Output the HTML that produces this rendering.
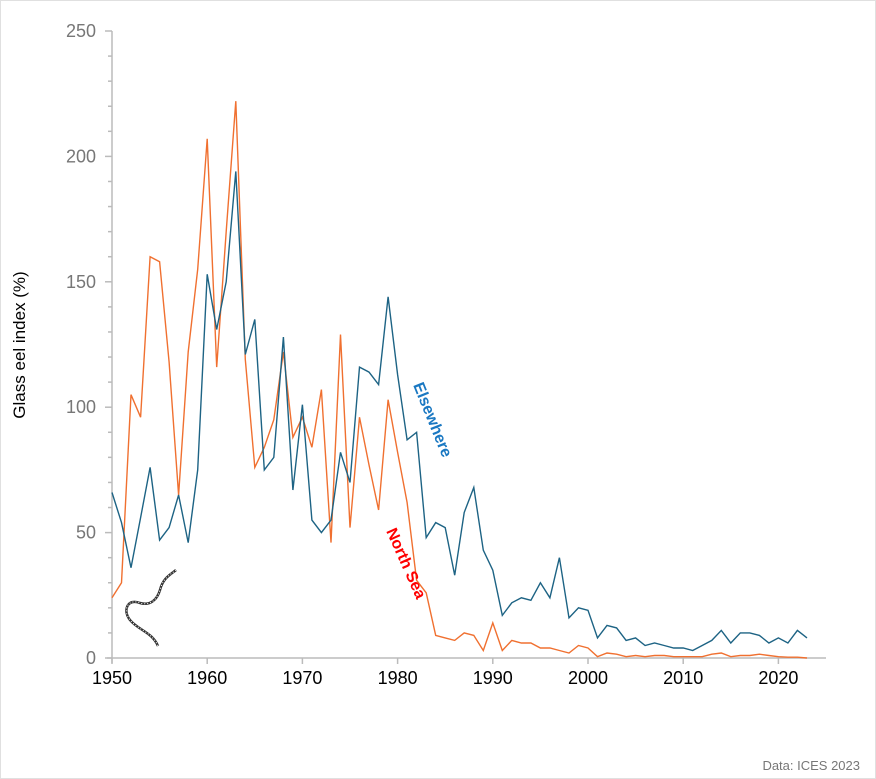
<!DOCTYPE html>
<html><head><meta charset="utf-8"><style>
body{margin:0;background:#fff;}
svg{display:block;font-family:"Liberation Sans",Arial,sans-serif;}
</style></head><body>
<svg id="s" width="876" height="779" viewBox="0 0 876 779">
<rect x="0.5" y="0.5" width="875" height="778" fill="#fff" stroke="#e0e0e0"/>
<g id="axes" stroke="#bbb" stroke-width="1.5" fill="none"></g>
<g id="lbl" fill="#777" font-size="18"></g>
<text transform="translate(25,345) rotate(-90)" text-anchor="middle" font-size="17" fill="#000">Glass eel index (%)</text>
<polyline id="ns" fill="none" stroke="#f07030" stroke-width="1.4"/>
<polyline id="el" fill="none" stroke="#1d6384" stroke-width="1.4"/>
<text transform="translate(413,385) rotate(68)" font-size="16" font-weight="bold" fill="#1a78c2">Elsewhere</text>
<text transform="translate(386,531) rotate(66)" font-size="16" font-weight="bold" fill="#ff0000">North Sea</text>
<g fill="none" stroke="#333">
<path d="M176,570 C170,575 163,578 160,590 C157,600 150,606 140,603 C128,598 122,610 130,620 C138,630 152,632 158,646" stroke-width="2.5"/>
<path d="M176,570 C170,575 163,578 160,590 C157,600 150,606 140,603 C128,598 122,610 130,620 C138,630 152,632 158,646" stroke="#fff" stroke-width="1" stroke-dasharray="1 2"/>
</g>
<text x="860" y="770" text-anchor="end" font-size="13" fill="#777">Data: ICES 2023</text>
</svg>
<script>
var X0=112,DX=9.52,Y0=658,K=2.508;
function px(i){return X0+DX*i}function py(v){return Y0-v*K}
var el=[66,54,36,56,76,47,52,65,46,75,153,131,150,194,121,135,75,80,128,67,101,55,50,55,82,70,116,114,109,144,113,87,90,48,54,52,33,58,68,43,35,17,22,24,23,30,24,40,16,20,19,8,13,12,7,8,5,6,5,4,4,3,5,7,11,6,10,10,9,6,8,6,11,8];
var ns=[24,30,105,96,160,158,118,65,122,155,207,116,170,222,119,76,84,95,122,88,96,84,107,46,129,52,96,77,59,103,82,62,31,26,9,8,7,10,9,3,14,3,7,6,6,4,4,3,2,5,4,0.5,2,1.5,0.5,1,0.5,1,1,0.5,0.5,0.5,0.5,1.5,2,0.5,1,1,1.5,1,0.5,0.3,0.3,0];
function pts(a){return a.map(function(v,i){return px(i).toFixed(1)+","+py(v).toFixed(1)}).join(" ")}
document.getElementById("el").setAttribute("points",pts(el));
document.getElementById("ns").setAttribute("points",pts(ns));
var ax='<line x1="112" y1="31" x2="112" y2="663"/><line x1="107" y1="658" x2="826" y2="658"/>';
for(var v=0;v<=250;v+=10){var y=py(v);ax+='<line x1="'+(v%50==0?105:108)+'" y1="'+y+'" x2="112" y2="'+y+'"/>';}
var lb='';
for(var v=0;v<=250;v+=50){lb+='<text x="96" y="'+(py(v)+6)+'" text-anchor="end">'+v+'</text>';}
for(var yr=1950;yr<=2020;yr+=10){var x=px(yr-1950);ax+='<line x1="'+x+'" y1="658" x2="'+x+'" y2="664"/>';lb+='<text x="'+x+'" y="684" text-anchor="middle" fill="#000">'+yr+'</text>';}
document.getElementById("axes").innerHTML=ax;
document.getElementById("lbl").innerHTML=lb;
</script>
</body></html>
